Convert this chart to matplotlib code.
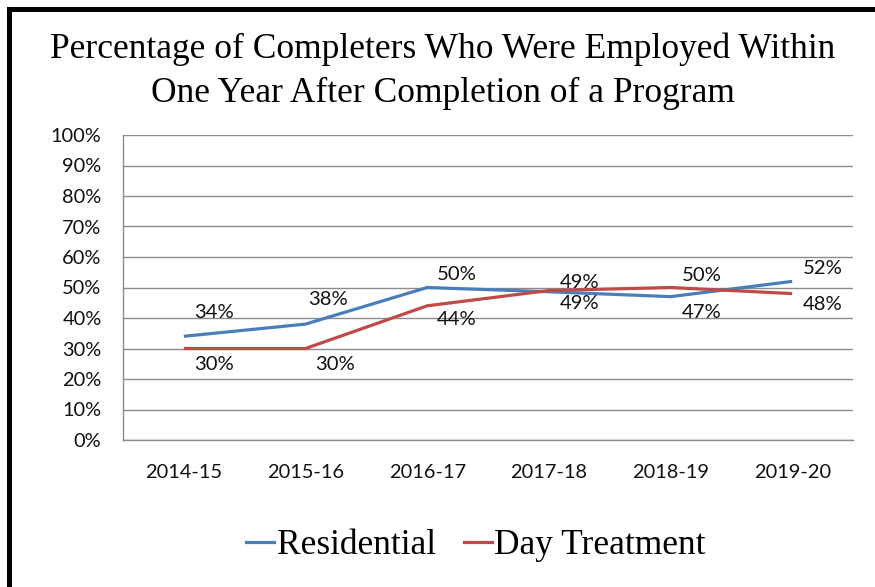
import matplotlib
matplotlib.use("Agg")
import matplotlib.pyplot as plt
from matplotlib.lines import Line2D
from matplotlib.patches import Rectangle

categories = ["2014-15", "2015-16", "2016-17", "2017-18", "2018-19", "2019-20"]
residential = [34, 38, 50, 48.6, 47, 52]
day_treatment = [30, 30, 44, 49, 50, 48]
residential_labels = ["34%", "38%", "50%", "49%", "47%", "52%"]
day_labels = ["30%", "30%", "44%", "49%", "50%", "48%"]
y_ticks = list(range(0, 101, 10))
title = "Percentage of Completers Who Were Employed Within\nOne Year After Completion of a Program"

# label offsets in pixels (dx, dy; positive dy = up)
res_offsets = [(30, 24), (23, 25), (30, 13), (31, -12), (31, -16), (31, 13)]
day_offsets = [(30, -16), (30, -16), (30, -14), (31, 8), (31, 12), (31, -11)]

W, H = 875, 587
fig = plt.figure(figsize=(W / 100, H / 100), dpi=100)
fig.patch.set_facecolor("white")

left, right, top, bottom = 123, 853, 135, 440
ax = fig.add_axes([left / W, 1 - bottom / H, (right - left) / W, (bottom - top) / H])

blue = "#4A7EBB"
red = "#BE4B48"
x = list(range(len(categories)))
ax.plot(x, residential, color=blue, lw=2.3, solid_capstyle="butt", zorder=3)
ax.plot(x, day_treatment, color=red, lw=2.3, solid_capstyle="butt", zorder=3)

ax.set_xlim(-0.5, len(categories) - 0.5)
ax.set_ylim(0, 100)
ax.set_yticks(y_ticks)
ax.set_yticklabels([f"{t}%" for t in y_ticks])
ax.set_xticks(x)
ax.set_xticklabels(categories)
ax.grid(axis="y", color="#8C8C8C", lw=1.0)
ax.set_axisbelow(True)
for s in ["top", "right"]:
    ax.spines[s].set_visible(False)
for s in ["left", "bottom"]:
    ax.spines[s].set_color("#8C8C8C")
    ax.spines[s].set_linewidth(1.0)
ax.tick_params(length=0)
tick_font = "Lato"
for lab in ax.get_yticklabels() + ax.get_xticklabels():
    lab.set_fontfamily(tick_font)
    lab.set_fontsize(14.4)
    lab.set_color("#111111")
ax.tick_params(axis="y", pad=15.5)
ax.tick_params(axis="x", pad=17)

for i in x:
    ax.annotate(residential_labels[i], (i, residential[i]), xytext=res_offsets[i],
                textcoords="offset pixels", ha="center", va="center",
                fontsize=14.6, fontfamily=tick_font, color="#111111")
    ax.annotate(day_labels[i], (i, day_treatment[i]), xytext=day_offsets[i],
                textcoords="offset pixels", ha="center", va="center",
                fontsize=14.6, fontfamily=tick_font, color="#111111")

fig.text(443 / W, 1 - 71 / H, title, ha="center", va="center",
         fontfamily="Liberation Serif", fontsize=25.5, linespacing=1.45)

handles = [Line2D([], [], color=blue, lw=2.3), Line2D([], [], color=red, lw=2.3)]
fig.legend(handles, ["Residential", "Day Treatment"], loc="center",
           bbox_to_anchor=(476 / W, 1 - 546 / H), ncol=2, frameon=False,
           prop={"family": "Liberation Serif", "size": 25.5},
           handlelength=0.78, handletextpad=0.08, columnspacing=0.8)

# black frame (top and left edges visible)
fig.add_artist(Rectangle((7 / W, 0), 5 / W, 1 - 7 / H, transform=fig.transFigure,
                         facecolor="black", edgecolor="none"))
fig.add_artist(Rectangle((7 / W, 1 - 12 / H), 1, 5 / H, transform=fig.transFigure,
                         facecolor="black", edgecolor="none"))

fig.savefig("out.png", dpi=100)
